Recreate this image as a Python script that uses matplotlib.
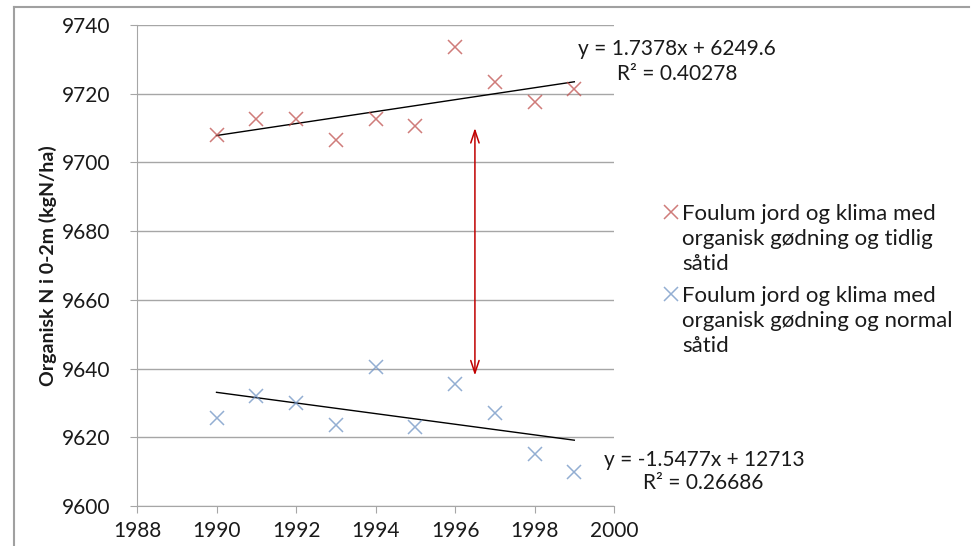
import matplotlib
matplotlib.use("Agg")
import matplotlib.pyplot as plt
import numpy as np
from matplotlib.lines import Line2D

plt.rcParams['font.family'] = ['Lato', 'DejaVu Sans']

years = [1990, 1991, 1992, 1993, 1994, 1995, 1996, 1997, 1998, 1999]
# organic N, early sowing
tidlig = [9708, 9712.5, 9712.5, 9706.5, 9712.5, 9710.5, 9733.5, 9723.5, 9717.5, 9721.5]
# organic N, normal sowing
normal = [9625.5, 9632, 9630, 9623.5, 9640.5, 9623, 9635.5, 9627, 9615, 9610]

fit_tidlig = (1.7378, 6249.6, 0.40278)
fit_normal = (-1.5477, 12713, 0.26686)

label_tidlig = "Foulum jord og klima med\norganisk gødning og tidlig\nsåtid"
label_normal = "Foulum jord og klima med\norganisk gødning og normal\nsåtid"

arrow_x = 1996.5
arrow_top = 9710
arrow_bottom = 9638

red = '#c0504d'
blue = '#6f93c4'
grid_col = '#a6a6a6'
txt = '#1a1a1a'

fig = plt.figure(figsize=(9.71, 5.46), dpi=100)
ax = fig.add_axes([0.1411, 0.0733, 0.4913, 0.8810])

# outer chart frame
fig.add_artist(Line2D([14/971, 14/971], [0, 1 - 7/546], color='#a0a0a0', lw=1.5))
fig.add_artist(Line2D([14/971, 0.998], [1 - 7/546, 1 - 7/546], color='#a0a0a0', lw=1.5))

ax.plot(years, tidlig, 'x', color=red, ms=10, mew=1.1, alpha=0.75, zorder=3)
ax.plot(years, normal, 'x', color=blue, ms=10, mew=1.1, alpha=0.75, zorder=3)

xs = np.array([years[0], years[-1]])
ax.plot(xs, fit_tidlig[0] * xs + fit_tidlig[1], color='black', lw=1, zorder=2)
ax.plot(xs, fit_normal[0] * xs + fit_normal[1], color='black', lw=1, zorder=2)

ax.annotate('', xy=(arrow_x, arrow_top), xytext=(arrow_x, arrow_bottom),
            arrowprops=dict(arrowstyle='<->,head_length=0.9,head_width=0.3',
                            color='#c00000', lw=1.1, shrinkA=0, shrinkB=0))

ax.set_xlim(1988, 2000)
ax.set_ylim(9600, 9740)
ax.set_xticks(range(1988, 2001, 2))
ax.set_yticks(range(9600, 9741, 20))
ax.grid(axis='y', color=grid_col, lw=1)
ax.set_axisbelow(True)
for s in ['top', 'right']:
    ax.spines[s].set_visible(False)
for s in ['left', 'bottom']:
    ax.spines[s].set_color(grid_col)
ax.tick_params(axis='both', colors=grid_col, labelcolor=txt, labelsize=15, length=5)
ax.tick_params(axis='y', pad=14)
ax.tick_params(axis='x', pad=6)

ax.set_ylabel('Organisk N i 0-2m (kgN/ha)', fontsize=14, fontweight='bold', color=txt, labelpad=4)

# trendline equations
eq = dict(fontsize=15, color=txt, ha='left', va='center', clip_on=False)
ax.text(1999.1, 9733.0, 'y = %.4fx + %.1f' % fit_tidlig[:2], **eq)
ax.text(2000.08, 9725.7, 'R² = %.5f' % fit_tidlig[2], **eq)
ax.text(1999.75, 9613.4, 'y = %.4fx + %d' % fit_normal[:2], **eq)
ax.text(2000.73, 9606.7, 'R² = %.5f' % fit_normal[2], **eq)

# legend drawn beside the plot, one text per line
for col, lab, ytop in [(red, label_tidlig, 214), (blue, label_normal, 296)]:
    fig.add_artist(Line2D([671/971], [1 - (ytop - 2)/546], marker='x', color=col, ms=10, mew=1.1, alpha=0.75))
    for i, line in enumerate(lab.split('\n')):
        fig.text(682/971, 1 - (ytop + 25 * i)/546, line, fontsize=16, color=txt, ha='left', va='center')

fig.savefig('out.png', dpi=100)
